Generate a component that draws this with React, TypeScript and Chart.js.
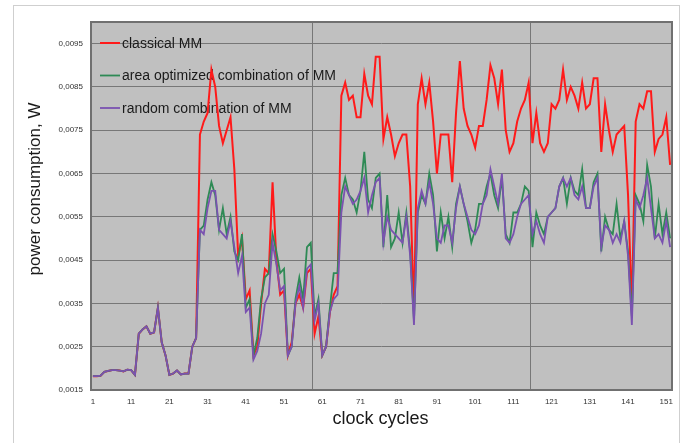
import React, { useEffect, useRef } from "react";
import { Chart, registerables } from "chart.js";

Chart.register(...registerables);

// ---- data ----
const seriesNames = [
  "classical MM",
  "area optimized combination of MM",
  "random combination of MM",
];

const classicalMM = [
  0.00182, 0.00182, 0.00183, 0.00192, 0.00194, 0.00196, 0.00196, 0.00195, 0.00193, 0.00197,
  0.00196, 0.00185, 0.0028, 0.0029, 0.00297, 0.0028, 0.00283, 0.0034, 0.0026, 0.0023,
  0.00185, 0.00188, 0.00195, 0.00186, 0.00188, 0.00188, 0.0025, 0.0027,
  0.0074, 0.0077, 0.0079, 0.0089, 0.0085, 0.0076, 0.0072, 0.0075, 0.0078, 0.0066,
  0.0046, 0.0050, 0.0036, 0.0038, 0.0023, 0.0025, 0.0035, 0.0043, 0.0042, 0.0063,
  0.0045, 0.0037, 0.0038,
  0.0023, 0.0026, 0.0035, 0.0037, 0.0034, 0.0042, 0.0043, 0.0028, 0.0032, 0.0023,
  0.0025, 0.0033, 0.0037, 0.0039, 0.0083, 0.0086, 0.0082, 0.0083, 0.0078, 0.0078,
  0.0088, 0.0083, 0.0081, 0.0092, 0.0092,
  0.0073, 0.0078, 0.0074, 0.0069, 0.0072, 0.0074, 0.0074, 0.0062, 0.0033, 0.0081,
  0.0087, 0.0081, 0.0086, 0.0077, 0.0065, 0.0074, 0.0074, 0.0074, 0.0063, 0.0079,
  0.0091, 0.0080, 0.0076, 0.0074, 0.0071, 0.0076,
  0.0076, 0.0082, 0.0090, 0.0087, 0.0081, 0.0089, 0.0075, 0.0070, 0.0072, 0.0077,
  0.0080, 0.0082, 0.0086, 0.0072, 0.0079, 0.0072, 0.0070, 0.0072, 0.0081, 0.0080,
  0.0082, 0.0089, 0.0082, 0.0085, 0.0083,
  0.0080, 0.0086, 0.0080, 0.0081, 0.0087, 0.0087, 0.0070, 0.0081, 0.0075, 0.0070,
  0.0074, 0.0075, 0.0076, 0.0060, 0.0034, 0.0077, 0.0081, 0.0080, 0.0084, 0.0084,
  0.0070, 0.0073, 0.0074, 0.0078, 0.0067,
];

const areaOptimizedMM = [
  0.00182, 0.00182, 0.00183, 0.00192, 0.00194, 0.00196, 0.00196, 0.00195, 0.00193, 0.00197,
  0.00196, 0.00185, 0.0028, 0.0029, 0.00297, 0.0028, 0.00283, 0.0034, 0.0026, 0.0023,
  0.00185, 0.00188, 0.00195, 0.00186, 0.00188, 0.00188, 0.0025, 0.0027,
  0.0052, 0.0053, 0.0059, 0.0063, 0.0060, 0.0052, 0.0057, 0.0051, 0.0055, 0.0047,
  0.0045, 0.0051, 0.0034, 0.0036, 0.0023, 0.0027, 0.0036, 0.0041, 0.0042, 0.0051,
  0.0047, 0.0042, 0.0043,
  0.0023, 0.0025, 0.0036, 0.0041, 0.0036, 0.0048, 0.0049, 0.0032, 0.0036, 0.0023,
  0.0025, 0.0034, 0.0042, 0.0042, 0.0060, 0.0064, 0.0060, 0.0059, 0.0056, 0.0061,
  0.0070, 0.0059, 0.0057, 0.0064, 0.0065,
  0.0048, 0.0060, 0.0048, 0.0050, 0.0056, 0.0049, 0.0056, 0.0047, 0.0031, 0.0056,
  0.0060, 0.0058, 0.0065, 0.0060, 0.0047, 0.0056, 0.0050, 0.0055, 0.0048, 0.0058,
  0.0062, 0.0058, 0.0054, 0.0049, 0.0052, 0.0058,
  0.0058, 0.0062, 0.0065, 0.0060, 0.0057, 0.0064, 0.0051, 0.0049, 0.0056, 0.0056,
  0.0058, 0.0062, 0.0061, 0.0048, 0.0056, 0.0053, 0.0051, 0.0055, 0.0056, 0.0057,
  0.0062, 0.0064, 0.0058, 0.0064, 0.0061,
  0.0060, 0.0066, 0.0057, 0.0057, 0.0063, 0.0065, 0.0047, 0.0055, 0.0052, 0.0051,
  0.0058, 0.0050, 0.0054, 0.0047, 0.0032, 0.0060, 0.0058, 0.0054, 0.0067, 0.0062,
  0.0050, 0.0058, 0.0051, 0.0056, 0.0050,
];

const randomMM = [
  0.00182, 0.00182, 0.00183, 0.00192, 0.00194, 0.00196, 0.00196, 0.00195, 0.00193, 0.00197,
  0.00196, 0.00185, 0.0028, 0.0029, 0.00297, 0.0028, 0.00283, 0.0034, 0.0026, 0.0023,
  0.00185, 0.00188, 0.00195, 0.00186, 0.00188, 0.00188, 0.0025, 0.0027,
  0.0052, 0.0051, 0.0057, 0.0061, 0.0061, 0.0052, 0.0051, 0.0050, 0.0054, 0.0048,
  0.0042, 0.0046, 0.0033, 0.0034, 0.0022, 0.0024, 0.0028, 0.0035, 0.0037, 0.0049,
  0.0044, 0.0038, 0.0039,
  0.0023, 0.0025, 0.0035, 0.0039, 0.0034, 0.0043, 0.0044, 0.0031, 0.0035, 0.0023,
  0.0025, 0.0033, 0.0036, 0.0037, 0.0056, 0.0062, 0.0060, 0.0058, 0.0059, 0.0061,
  0.0064, 0.0056, 0.0060, 0.0063, 0.0064,
  0.0049, 0.0055, 0.0052, 0.0051, 0.0050, 0.0049, 0.0055, 0.0046, 0.0030, 0.0057,
  0.0061, 0.0058, 0.0063, 0.0058, 0.0050, 0.0049, 0.0053, 0.0053, 0.0049, 0.0057,
  0.0062, 0.0058, 0.0055, 0.0052, 0.0051, 0.0053,
  0.0058, 0.0060, 0.0066, 0.0062, 0.0058, 0.0065, 0.0050, 0.0049, 0.0051, 0.0055,
  0.0058, 0.0059, 0.0060, 0.0051, 0.0054, 0.0051, 0.0049, 0.0055, 0.0056, 0.0057,
  0.0062, 0.0064, 0.0062, 0.0064, 0.0060,
  0.0059, 0.0062, 0.0057, 0.0057, 0.0062, 0.0064, 0.0048, 0.0053, 0.0052, 0.0049,
  0.0051, 0.0049, 0.0054, 0.0046, 0.0030, 0.0059, 0.0057, 0.0060, 0.0064, 0.0057,
  0.0050, 0.0051, 0.0049, 0.0054, 0.0048,
];

const xTickValues = [1, 11, 21, 31, 41, 51, 61, 71, 81, 91, 101, 111, 121, 131, 141, 151];
const yTickValues = [0.0015, 0.0025, 0.0035, 0.0045, 0.0055, 0.0065, 0.0075, 0.0085, 0.0095];
const xGridValues = [58.2, 115.3];

const xTitle = "clock cycles";
const yTitle = "power consumption, W";

const FONT = "'Liberation Sans', Arial, sans-serif";
const colors = ["#ff1a1a", "#2e8a55", "#7a52b0"];
const widths = [2, 1.8, 1.8];

const toPoints = (arr: number[]) => arr.map((v, i) => ({ x: i + 1, y: v }));

const framePlugin = {
  id: "frame",
  beforeDraw(chart: any) {
    const { ctx, chartArea: a, width, height } = chart;
    ctx.save();
    ctx.fillStyle = "#ffffff";
    ctx.fillRect(0, 0, width, height);
    ctx.strokeStyle = "#cfcfcf";
    ctx.lineWidth = 1;
    ctx.strokeRect(13.5, 5.5, width - 22, height + 10);
    ctx.fillStyle = "#c0c0c0";
    ctx.fillRect(a.left, a.top, a.right - a.left, a.bottom - a.top);
    ctx.restore();
  },
  beforeDatasetsDraw(chart: any) {
    const { ctx, chartArea: a, scales } = chart;
    ctx.save();
    ctx.strokeStyle = "#777777";
    ctx.lineWidth = 1;
    xGridValues.forEach((v) => {
      const px = Math.round(scales.x.getPixelForValue(v)) + 0.5;
      ctx.beginPath();
      ctx.moveTo(px, a.top);
      ctx.lineTo(px, a.bottom);
      ctx.stroke();
    });
    ctx.font = `14px ${FONT}`;
    ctx.textBaseline = "middle";
    chart.data.datasets.forEach((ds: any, i: number) => {
      const y = a.top + 21 + i * 32.5;
      ctx.strokeStyle = ds.borderColor;
      ctx.lineWidth = ds.borderWidth;
      ctx.beginPath();
      ctx.moveTo(a.left + 9, y);
      ctx.lineTo(a.left + 29, y);
      ctx.stroke();
      ctx.fillStyle = "#1a1a1a";
      ctx.fillText(ds.label, a.left + 31, y + 1);
    });
    ctx.restore();
  },
  afterDraw(chart: any) {
    const { ctx, chartArea: a } = chart;
    ctx.save();
    ctx.strokeStyle = "#707070";
    ctx.lineWidth = 2;
    ctx.strokeRect(a.left, a.top, a.right - a.left, a.bottom - a.top);
    ctx.fillStyle = "#1a1a1a";
    ctx.textAlign = "center";
    ctx.textBaseline = "middle";
    ctx.font = `18px ${FONT}`;
    ctx.fillText(xTitle, (a.left + a.right) / 2 - 1, 419);
    ctx.translate(35, 189);
    ctx.rotate(-Math.PI / 2);
    ctx.font = `17px ${FONT}`;
    ctx.fillText(yTitle, 0, 0);
    ctx.restore();
  },
};

export default function App() {
  const ref = useRef<HTMLCanvasElement>(null);

  useEffect(() => {
    if (!ref.current) return;
    const data = [classicalMM, areaOptimizedMM, randomMM];
    const chart = new Chart(ref.current, {
      type: "line",
      data: {
        datasets: data.map((arr, i) => ({
          label: seriesNames[i],
          data: toPoints(arr),
          borderColor: colors[i],
          backgroundColor: colors[i],
          borderWidth: widths[i],
          pointRadius: 0,
          tension: 0,
          fill: false,
          order: 3 - i,
        })),
      },
      options: {
        animation: false,
        responsive: false,
        maintainAspectRatio: false,
        layout: { padding: { left: 0, top: 22, right: 16, bottom: 0 } },
        plugins: {
          legend: { display: false },
          tooltip: { enabled: false },
          title: { display: false },
        },
        scales: {
          x: {
            type: "linear",
            min: 0.5,
            max: 152.5,
            afterBuildTicks: (s: any) => {
              s.ticks = xTickValues.map((v) => ({ value: v }));
            },
            afterFit: (s: any) => {
              s.height = 53;
            },
            grid: { display: false, drawTicks: false },
            border: { display: false },
            ticks: {
              autoSkip: false,
              maxRotation: 0,
              padding: 7,
              color: "#333",
              font: { size: 8, family: FONT },
              callback: (v: any) => String(v),
            },
          },
          y: {
            min: 0.0015,
            max: 0.01,
            afterBuildTicks: (s: any) => {
              s.ticks = yTickValues.map((v) => ({ value: v }));
            },
            afterFit: (s: any) => {
              s.width = 91;
            },
            grid: { color: "#777777", lineWidth: 1, drawTicks: false },
            border: { display: false },
            ticks: {
              padding: 8,
              color: "#333",
              font: { size: 8, family: FONT },
              callback: (v: any) => Number(v).toFixed(4).replace(".", ","),
            },
          },
        },
      },
      plugins: [framePlugin],
    });
    return () => chart.destroy();
  }, []);

  return (
    <div style={{ position: "fixed", left: 0, top: 0, width: 688, height: 443, background: "#fff" }}>
      <canvas ref={ref} width={688} height={443} style={{ display: "block" }} />
    </div>
  );
}
